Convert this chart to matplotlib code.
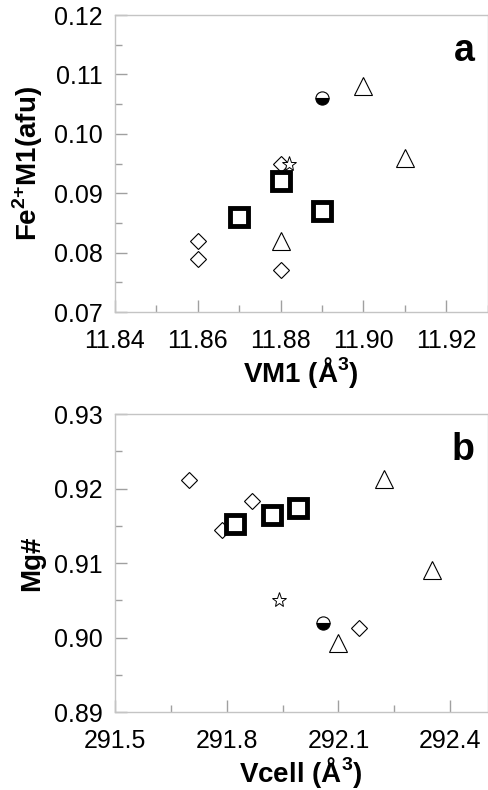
import matplotlib
matplotlib.use('Agg')
from matplotlib import pyplot as plt
from matplotlib.ticker import MultipleLocator, FixedLocator, FormatStrFormatter

plt.rcParams['font.family'] = ['Liberation Sans', 'DejaVu Sans']
plt.rcParams['mathtext.fontset'] = 'custom'
plt.rcParams['mathtext.rm'] = 'Liberation Sans'
plt.rcParams['mathtext.bf'] = 'Liberation Sans:bold'

# panel a: VM1 vs Fe2+ M1
a_sq_x = [11.87, 11.88, 11.89]
a_sq_y = [0.086, 0.092, 0.087]
a_dia_x = [11.86, 11.86, 11.88, 11.88]
a_dia_y = [0.082, 0.079, 0.095, 0.077]
a_tri_x = [11.88, 11.90, 11.91]
a_tri_y = [0.082, 0.108, 0.096]
a_star_x = [11.882]
a_star_y = [0.095]
a_half_x = [11.89]
a_half_y = [0.106]
a_xticks = [11.84, 11.86, 11.88, 11.90, 11.92]

# panel b: Vcell vs Mg#
b_sq_x = [291.821, 291.921, 291.991]
b_sq_y = [0.9153, 0.9165, 0.9174]
b_dia_x = [291.699, 291.869, 291.787, 292.155]
b_dia_y = [0.9212, 0.9183, 0.9145, 0.9013]
b_tri_x = [292.221, 292.100, 292.351]
b_tri_y = [0.9213, 0.8993, 0.9091]
b_star_x = [291.941]
b_star_y = [0.905]
b_half_x = [292.058]
b_half_y = [0.9019]
b_xticks = [291.5, 291.8, 292.1, 292.4]
b_xminor = [291.65, 291.95, 292.25]

SPINE = '#c4c4c4'
TICK = '#a0a0a0'


def style(ax):
    for s in ax.spines.values():
        s.set_color(SPINE)
        s.set_linewidth(1.0)
    ax.tick_params(which='both', direction='in', colors=TICK, labelcolor='black',
                   labelsize=18)
    ax.tick_params(which='major', length=8.5, width=1)
    ax.tick_params(which='minor', length=5, width=1)
    ax.tick_params(axis='x', pad=12)
    ax.tick_params(axis='y', pad=9)


def draw(ax, sq, dia, tri, star, half):
    ax.plot(dia[0], dia[1], 'D', ms=8.5, mfc='white', mec='black', mew=0.8, ls='none')
    ax.plot(tri[0], tri[1], '^', ms=12.5, mfc='white', mec='black', mew=0.8, ls='none')
    ax.plot(star[0], star[1], '*', ms=11, mfc='white', mec='black', mew=0.7, ls='none')
    ax.plot(half[0], half[1], 'o', ms=9.5, fillstyle='bottom', mfc='black',
            mfcalt='white', mec='black', mew=0.8, ls='none')
    ax.plot(sq[0], sq[1], 's', ms=13, mfc='white', mec='black', mew=3.5, ls='none')


fig = plt.figure(figsize=(4.89, 7.90), dpi=100)

ax1 = fig.add_axes([0.235, 0.605, 0.762, 0.376])
draw(ax1, (a_sq_x, a_sq_y), (a_dia_x, a_dia_y), (a_tri_x, a_tri_y),
     (a_star_x, a_star_y), (a_half_x, a_half_y))
ax1.set_xlim(11.84, 11.93)
ax1.set_ylim(0.07, 0.12)
ax1.xaxis.set_major_locator(FixedLocator(a_xticks))
ax1.xaxis.set_minor_locator(MultipleLocator(0.01))
ax1.yaxis.set_major_locator(MultipleLocator(0.01))
ax1.yaxis.set_minor_locator(MultipleLocator(0.005))
ax1.xaxis.set_major_formatter(FormatStrFormatter('%.2f'))
ax1.yaxis.set_major_formatter(FormatStrFormatter('%.2f'))
style(ax1)
ax1.set_xlabel(r'VM1 (Å$^{\mathbf{3}}$)', fontsize=20, fontweight='bold', labelpad=2)
ax1.set_ylabel(r'Fe$^{\mathbf{2{+}}}$M1(afu)', fontsize=20, fontweight='bold', labelpad=6)
ax1.text(0.965, 0.94, 'a', transform=ax1.transAxes, ha='right', va='top',
         fontsize=27, fontweight='bold')

ax2 = fig.add_axes([0.235, 0.0987, 0.762, 0.377])
draw(ax2, (b_sq_x, b_sq_y), (b_dia_x, b_dia_y), (b_tri_x, b_tri_y),
     (b_star_x, b_star_y), (b_half_x, b_half_y))
ax2.set_xlim(291.5, 292.5)
ax2.set_ylim(0.89, 0.93)
ax2.xaxis.set_major_locator(FixedLocator(b_xticks))
ax2.xaxis.set_minor_locator(FixedLocator(b_xminor))
ax2.yaxis.set_major_locator(MultipleLocator(0.01))
ax2.yaxis.set_minor_locator(MultipleLocator(0.005))
ax2.xaxis.set_major_formatter(FormatStrFormatter('%.1f'))
ax2.yaxis.set_major_formatter(FormatStrFormatter('%.2f'))
style(ax2)
ax2.set_xlabel(r'Vcell (Å$^{\mathbf{3}}$)', fontsize=20, fontweight='bold', labelpad=2)
ax2.set_ylabel('Mg#', fontsize=20, fontweight='bold', labelpad=6)
ax2.text(0.965, 0.94, 'b', transform=ax2.transAxes, ha='right', va='top',
         fontsize=27, fontweight='bold')

fig.savefig('out.png', dpi=100)
